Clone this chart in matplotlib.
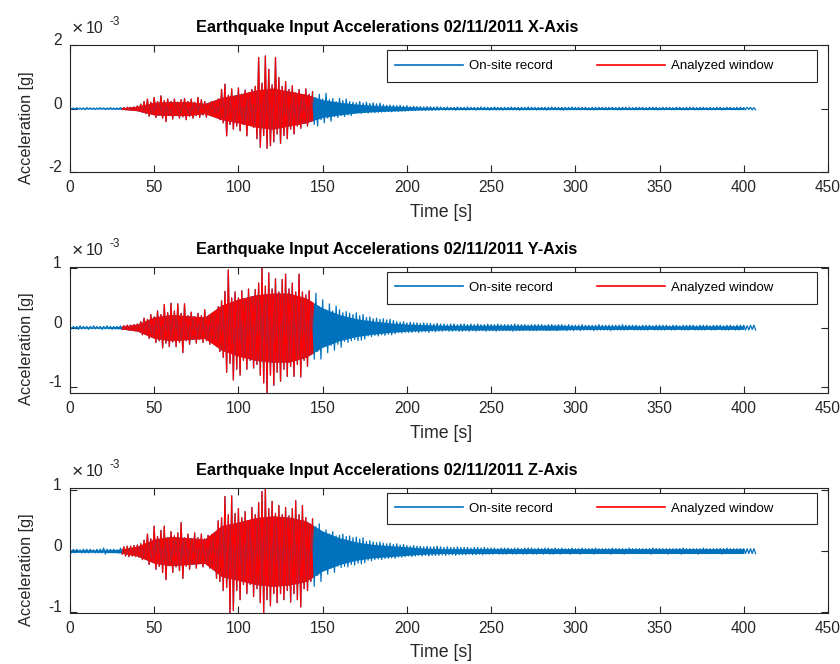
import numpy as np
import matplotlib.pyplot as plt
from matplotlib.patches import Rectangle

plt.rcParams['font.family'] = ['Liberation Sans', 'DejaVu Sans']

# peak values, one pair per 2 s, in units of 1e-5 g
# (hi = positive peak, lo = size of the negative peak)
x_hi = [2, 2, 3, 2, 2, 3, 2, 2, 2, 3,
        2, 2, 3, 2, 2, 3, 3, 4, 4, 5,
        8, 14, 22, 30, 20, 35, 22, 40, 25, 30,
        22, 30, 20, 28, 32, 22, 30, 20, 35, 28,
        22, 15, 22, 18, 30, 60, 77, 42, 62, 38,
        65, 45, 58, 40, 60, 70, 161, 80, 166, 124,
        75, 161, 98, 70, 85, 60, 72, 50, 60, 42,
        62, 45, 53, 35, 45, 30, 48, 28, 32, 22,
        32, 25, 30, 22, 20, 18, 22, 17, 20, 16,
        18, 15, 17, 12, 10, 11, 10, 9, 10, 8,
        9, 6, 7, 6, 6, 5, 6, 6, 5, 6,
        5, 4, 5, 4, 4, 5, 4, 4, 5, 4,
        4, 4, 5, 4, 4, 4, 5, 4, 4, 4,
        4, 5, 4, 4, 4, 4, 5, 4, 4, 4,
        4, 4, 4, 5, 4, 4, 4, 4, 4, 5,
        4, 4, 4, 4, 3, 4, 4, 4, 4, 4,
        4, 4, 3, 4, 4, 4, 4, 3, 4, 4,
        4, 3, 4, 4, 4, 3, 4, 4, 4, 3,
        4, 4, 3, 4, 4, 4, 3, 4, 4, 3,
        4, 3, 4, 4, 3, 4, 4, 3, 4, 4,
        3, 4, 4, 3]
x_lo = [2, 3, 2, 2, 3, 2, 2, 3, 2, 2,
        3, 2, 2, 3, 2, 3, 4, 3, 5, 4,
        7, 12, 16, 24, 18, 28, 20, 30, 41, 22,
        33, 22, 30, 26, 35, 24, 30, 22, 28, 20,
        27, 15, 20, 16, 35, 45, 86, 50, 65, 55,
        70, 50, 86, 45, 60, 95, 122, 85, 125, 117,
        105, 80, 110, 85, 95, 65, 80, 55, 62, 45,
        55, 40, 50, 55, 35, 45, 30, 40, 25, 28,
        22, 25, 20, 22, 14, 13, 15, 12, 14, 12,
        13, 12, 11, 10, 9, 10, 8, 9, 8, 8,
        7, 6, 6, 5, 6, 6, 5, 6, 5, 5,
        4, 5, 4, 4, 5, 4, 4, 5, 4, 4,
        5, 4, 4, 4, 5, 4, 4, 4, 5, 4,
        4, 4, 4, 5, 4, 4, 4, 4, 5, 4,
        4, 5, 4, 4, 4, 4, 5, 4, 4, 4,
        4, 4, 3, 4, 4, 4, 4, 3, 4, 4,
        3, 4, 4, 4, 3, 4, 4, 4, 4, 3,
        4, 4, 3, 4, 4, 4, 4, 3, 4, 4,
        3, 4, 4, 4, 3, 4, 4, 4, 3, 4,
        4, 4, 3, 4, 4, 3, 4, 4, 4, 3,
        4, 3, 4, 4]

y_hi = [2, 2, 2, 3, 2, 2, 2, 3, 2, 2,
        2, 3, 2, 2, 2, 3, 3, 4, 4, 5,
        6, 10, 16, 14, 22, 18, 28, 22, 39, 25,
        41, 28, 40, 24, 40, 20, 26, 18, 24, 20,
        30, 18, 22, 20, 35, 45, 61, 97, 50, 60,
        50, 62, 45, 65, 52, 64, 75, 102, 70, 92,
        65, 82, 60, 81, 90, 65, 75, 60, 90, 60,
        55, 62, 40, 58, 35, 47, 30, 40, 28, 36,
        30, 25, 27, 24, 22, 25, 20, 22, 17, 18,
        15, 16, 14, 15, 13, 14, 12, 10, 9, 10,
        8, 9, 8, 8, 7, 8, 7, 7, 6, 7,
        6, 6, 5, 6, 6, 5, 6, 6, 5, 6,
        5, 6, 5, 5, 6, 5, 5, 6, 5, 5,
        5, 5, 6, 5, 5, 5, 4, 5, 5, 5,
        5, 4, 5, 5, 4, 5, 5, 4, 5, 4,
        4, 4, 5, 4, 4, 4, 4, 5, 4, 4,
        4, 4, 4, 4, 5, 4, 4, 4, 4, 3,
        4, 4, 4, 3, 4, 4, 4, 4, 3, 4,
        4, 3, 4, 4, 4, 4, 3, 4, 4, 4,
        3, 4, 4, 4, 3, 4, 4, 3, 4, 4,
        4, 3, 4, 4]
y_lo = [2, 2, 3, 2, 2, 3, 2, 2, 2, 3,
        2, 2, 3, 2, 2, 3, 3, 4, 4, 5,
        6, 12, 10, 18, 16, 25, 22, 34, 26, 32,
        24, 32, 25, 42, 22, 28, 20, 26, 20, 25,
        22, 28, 18, 25, 40, 50, 75, 60, 88, 70,
        80, 55, 70, 55, 68, 62, 80, 93, 112, 80,
        97, 75, 90, 70, 82, 65, 82, 62, 83, 55,
        65, 45, 53, 40, 53, 32, 42, 30, 38, 28,
        33, 23, 25, 22, 20, 22, 21, 19, 14, 15,
        13, 14, 12, 13, 11, 12, 10, 8, 9, 8,
        8, 8, 7, 8, 7, 7, 8, 6, 7, 6,
        6, 5, 6, 6, 5, 6, 6, 5, 6, 5,
        6, 5, 5, 6, 5, 5, 6, 5, 5, 5,
        5, 6, 5, 5, 5, 4, 5, 5, 5, 4,
        4, 5, 5, 4, 5, 4, 4, 5, 4, 5,
        4, 5, 4, 4, 4, 5, 4, 4, 4, 4,
        5, 4, 4, 4, 4, 4, 3, 4, 4, 4,
        4, 4, 3, 4, 4, 4, 4, 3, 4, 4,
        3, 4, 4, 4, 3, 4, 4, 4, 4, 3,
        4, 4, 3, 4, 4, 4, 3, 4, 4, 3,
        4, 4, 3, 4]

z_hi = [3, 3, 3, 2, 3, 3, 3, 2, 3, 3,
        5, 3, 3, 3, 2, 5, 7, 8, 8, 9,
        10, 12, 18, 28, 20, 41, 24, 34, 41, 22,
        32, 25, 30, 47, 22, 28, 20, 30, 22, 28,
        20, 26, 22, 30, 50, 55, 90, 60, 91, 62,
        70, 55, 65, 50, 72, 60, 80, 98, 104, 70,
        82, 62, 75, 60, 72, 58, 70, 83, 60, 75,
        55, 45, 53, 40, 45, 30, 35, 28, 32, 25,
        26, 28, 24, 25, 22, 23, 20, 22, 16, 17,
        15, 14, 15, 13, 12, 13, 11, 12, 10, 11,
        9, 8, 9, 8, 8, 7, 8, 7, 7, 8,
        7, 6, 7, 6, 6, 7, 6, 6, 6, 5,
        6, 6, 5, 6, 5, 5, 5, 4, 5, 5,
        5, 4, 5, 5, 4, 5, 5, 5, 4, 5,
        4, 5, 5, 4, 5, 4, 5, 4, 4, 5,
        4, 4, 5, 4, 4, 4, 5, 4, 4, 4,
        4, 5, 4, 4, 4, 4, 5, 4, 4, 4,
        4, 4, 4, 5, 4, 4, 4, 4, 4, 4,
        4, 4, 5, 4, 4, 4, 4, 4, 5, 4,
        4, 4, 4, 4, 4, 5, 4, 4, 4, 4,
        4, 4, 4, 4]
z_lo = [3, 3, 2, 3, 3, 3, 2, 3, 3, 3,
        5, 3, 3, 2, 3, 5, 8, 9, 8, 9,
        10, 14, 12, 22, 18, 30, 25, 35, 47, 24,
        35, 26, 32, 45, 25, 30, 22, 28, 20, 26,
        22, 28, 20, 45, 50, 65, 60, 102, 98, 65,
        80, 55, 70, 55, 75, 62, 85, 102, 80, 90,
        70, 85, 70, 80, 65, 84, 70, 80, 92, 62,
        65, 50, 58, 40, 50, 30, 38, 28, 35, 25,
        27, 25, 26, 22, 23, 20, 21, 19, 15, 16,
        14, 13, 14, 12, 12, 11, 12, 10, 10, 9,
        8, 9, 8, 7, 8, 7, 8, 7, 7, 7,
        6, 7, 6, 6, 7, 6, 6, 6, 5, 6,
        6, 5, 6, 5, 5, 5, 4, 5, 5, 5,
        4, 5, 5, 4, 5, 5, 4, 5, 5, 4,
        5, 4, 5, 5, 4, 5, 4, 4, 5, 4,
        4, 5, 4, 4, 4, 5, 4, 4, 4, 4,
        5, 4, 4, 4, 5, 4, 4, 4, 4, 4,
        4, 4, 5, 4, 4, 4, 4, 5, 4, 4,
        4, 5, 4, 4, 4, 4, 5, 4, 4, 4,
        4, 4, 4, 5, 4, 4, 4, 4, 4, 4,
        4, 4, 4, 4]

# half-width of the dense (solid looking) band, every 10 s from 0 to 400 s
core_t = list(range(0, 401, 10))
x_core = [1, 1, 1, 2, 7, 20, 22, 22, 16, 35, 45, 58, 65, 55, 45, 28, 20, 14, 10, 8,
          6, 4, 3, 3, 3, 3, 3, 3, 3, 3, 3, 3, 3, 3, 3, 3, 3, 3, 3, 3, 3]
y_core = [1, 1, 1, 2, 6, 18, 22, 20, 18, 38, 48, 55, 58, 58, 50, 33, 22, 15, 11, 8,
          6, 5, 4, 4, 4, 4, 4, 4, 4, 4, 3, 3, 3, 3, 3, 3, 3, 3, 3, 3, 3]
z_core = [2, 2, 2, 3, 8, 20, 24, 22, 20, 42, 48, 55, 58, 56, 50, 33, 22, 15, 11, 9,
          7, 5, 4, 4, 4, 4, 4, 4, 4, 4, 4, 4, 4, 4, 4, 4, 4, 4, 4, 4, 4]

axis_names = ['X', 'Y', 'Z']
peaks = [(x_hi, x_lo), (y_hi, y_lo), (z_hi, z_lo)]
cores = [x_core, y_core, z_core]
y_limits = [(-2, 2), (-1.1, 1.02), (-1.02, 1.04)]
y_ticks = [[-2, 0, 2], [-1, 0, 1], [-1, 0, 1]]
window_start, window_end = 31, 144   # analyzed window [s]

blue = '#0072BD'
dark = '#262626'

fig = plt.figure(figsize=(8.4, 6.64), dpi=100)
positions = [[0.0833, 0.741, 0.9024, 0.191],
             [0.0833, 0.4081, 0.9024, 0.1898],
             [0.0833, 0.0768, 0.9024, 0.1883]]

for name, (hi, lo), core, ylim, yt, pos in zip(axis_names, peaks, cores,
                                               y_limits, y_ticks, positions):
    ax = fig.add_axes(pos)
    acc = np.empty(2 * len(hi))
    acc[0::2] = hi
    acc[1::2] = -np.array(lo)
    acc = acc / 100.0          # in 1e-3 g
    t = np.arange(len(acc))    # 1 s between peaks
    core = np.array(core) / 100.0

    # dense band of the trace
    ax.fill_between(core_t, core, -core, color=blue, lw=0)
    red_band = ax.fill_between(core_t, core, -core, color='red', lw=0)
    red_band.set_clip_path(Rectangle((window_start, -5), window_end - window_start, 10,
                                     transform=ax.transData))
    # zig-zag through the peaks
    ax.plot(t, acc, color=blue, lw=0.9, label='On-site record')
    w = (t >= window_start) & (t <= window_end)
    ax.plot(t[w], acc[w], color='red', lw=0.9, label='Analyzed window')

    ax.set_xlim(0, 450)
    ax.set_ylim(*ylim)
    ax.set_xticks(np.arange(0, 451, 50))
    ax.set_yticks(yt)
    ax.set_yticklabels([str(v) for v in yt])
    ax.tick_params(direction='in', length=5, width=0.8, top=True, right=True,
                   labelsize=11.2, colors=dark, pad=6)
    for lab in ax.get_yticklabels():
        lab.set_va('baseline')
    for sp in ax.spines.values():
        sp.set_color(dark)
        sp.set_linewidth(0.8)

    ax.set_title(f'Earthquake Input Accelerations 02/11/2011 {name}-Axis',
                 fontsize=11.7, fontweight='bold', pad=9.5)
    ax.title.set_x(0.418)
    ax.set_xlabel('Time [s]', fontsize=12.8, color=dark)
    ax.xaxis.set_label_coords(0.49, -0.25)
    ax.set_ylabel('Acceleration [g]', fontsize=11.7, color=dark)
    ax.yaxis.set_label_coords(-0.047, 0.35)

    # exponent label, MATLAB style
    ax.annotate('\u00d7', xy=(0, 1), xycoords='axes fraction',
                xytext=(2, 11), textcoords='offset pixels',
                fontsize=14, color=dark, va='baseline')
    ax.annotate('10', xy=(0, 1), xycoords='axes fraction',
                xytext=(16, 12), textcoords='offset pixels',
                fontsize=11.5, color=dark, va='baseline')
    ax.annotate('-3', xy=(0, 1), xycoords='axes fraction',
                xytext=(40, 20), textcoords='offset pixels',
                fontsize=8.5, color=dark, va='baseline')

    ax.add_patch(Rectangle((0.418, 0.709), 0.568, 0.252, transform=ax.transAxes,
                           facecolor='white', edgecolor=dark, lw=0.8, zorder=5))
    leg = ax.legend(loc='center left', bbox_to_anchor=(0.418, 0.835), frameon=False,
                    ncol=2, fontsize=9.5, handlelength=5.2, handletextpad=0.45,
                    columnspacing=3.3, borderpad=0.6, borderaxespad=0)
    for ln in leg.get_lines():
        ln.set_linewidth(1.2)
    leg.set_zorder(6)

fig.savefig('out.png', dpi=100)
